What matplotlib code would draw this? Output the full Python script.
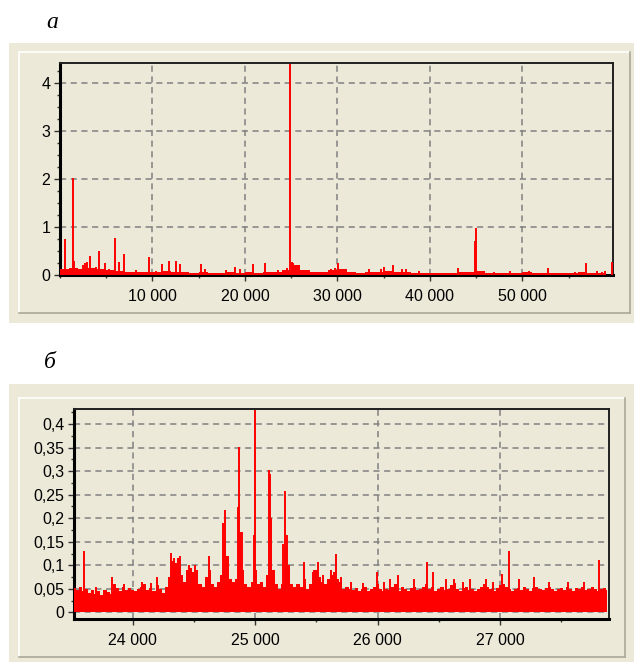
import numpy as np
import matplotlib
matplotlib.use("Agg")
import matplotlib.pyplot as plt
from matplotlib.patches import Rectangle
from matplotlib.lines import Line2D
from matplotlib.ticker import MultipleLocator, FuncFormatter

# ---- panel a: full spectrum ----
a_floor_step = 1000
a_floor = [0.12, 0.14, 0.12, 0.15, 0.13, 0.10, 0.08, 0.07, 0.06, 0.07,
           0.06, 0.08, 0.07, 0.06, 0.05, 0.06, 0.05, 0.05, 0.06, 0.05,
           0.06, 0.05, 0.06, 0.06, 0.10, 0.20, 0.10, 0.06, 0.07, 0.10,
           0.12, 0.07, 0.05, 0.06, 0.07, 0.08, 0.07, 0.06, 0.05, 0.05,
           0.05, 0.05, 0.05, 0.06, 0.07, 0.08, 0.05, 0.05, 0.05, 0.05,
           0.06, 0.05, 0.05, 0.05, 0.05, 0.05, 0.06, 0.05, 0.05, 0.06]
a_peak_x = [530, 1360, 1510, 2440, 2730, 2910, 3240, 3890, 4250, 4900,
            5340, 5910, 6420, 6960, 8230, 9670, 10400, 11010, 11840, 12570,
            12930, 15280, 15640, 17990, 18970, 19510, 20880, 22220, 23590, 24500,
            24860, 25040, 25220, 29300, 29700, 30030, 33430, 34720, 35040, 36060,
            36970, 37400, 38780, 43050, 44850, 45000, 46910, 48610, 50670, 52810,
            54070, 55700, 56890, 58050, 58560, 58920, 59640]
a_peak_y = [0.75, 2.03, 0.29, 0.20, 0.25, 0.28, 0.40, 0.17, 0.50, 0.25,
            0.12, 0.78, 0.27, 0.43, 0.10, 0.38, 0.08, 0.22, 0.30, 0.30,
            0.22, 0.22, 0.12, 0.10, 0.16, 0.12, 0.23, 0.25, 0.10, 0.15,
            4.39, 0.28, 0.25, 0.12, 0.14, 0.24, 0.13, 0.13, 0.17, 0.20,
            0.13, 0.12, 0.08, 0.15, 0.70, 0.97, 0.06, 0.08, 0.08, 0.15,
            0.05, 0.06, 0.24, 0.08, 0.07, 0.08, 0.28]

# ---- panel b: zoom 23 500 - 27 900 ----
b_start = 23525
b_step = 25
b_floor = [0.052, 0.048, 0.055, 0.045, 0.050, 0.042, 0.047, 0.040, 0.045, 0.038,
           0.048, 0.043, 0.040, 0.060, 0.052, 0.045, 0.055, 0.048, 0.052, 0.047,
           0.045, 0.050, 0.055, 0.060, 0.048, 0.052, 0.045, 0.058, 0.050, 0.042,
           0.055, 0.075, 0.110, 0.105, 0.115, 0.080, 0.065, 0.090, 0.095, 0.085,
           0.090, 0.060, 0.055, 0.075, 0.090, 0.060, 0.055, 0.065, 0.080, 0.150,
           0.120, 0.070, 0.065, 0.070, 0.170, 0.090, 0.060, 0.055, 0.065, 0.090,
           0.060, 0.065, 0.055, 0.080, 0.200, 0.090, 0.060, 0.050, 0.060, 0.140,
           0.100, 0.060, 0.055, 0.060, 0.055, 0.070, 0.050, 0.060, 0.085, 0.090,
           0.075, 0.065, 0.060, 0.070, 0.080, 0.085, 0.070, 0.065, 0.050, 0.055,
           0.050, 0.048, 0.052, 0.045, 0.050, 0.055, 0.045, 0.050, 0.055, 0.060,
           0.050, 0.045, 0.050, 0.048, 0.055, 0.060, 0.045, 0.055, 0.050, 0.045,
           0.052, 0.055, 0.048, 0.050, 0.055, 0.060, 0.050, 0.055, 0.045, 0.050,
           0.055, 0.048, 0.050, 0.058, 0.062, 0.050, 0.045, 0.052, 0.055, 0.048,
           0.050, 0.045, 0.050, 0.055, 0.060, 0.055, 0.050, 0.045, 0.052, 0.058,
           0.060, 0.055, 0.050, 0.045, 0.050, 0.052, 0.048, 0.055, 0.050, 0.045,
           0.052, 0.055, 0.050, 0.048, 0.052, 0.055, 0.050, 0.045, 0.050, 0.052,
           0.048, 0.055, 0.050, 0.045, 0.052, 0.050, 0.055, 0.048, 0.050, 0.055,
           0.050, 0.045, 0.050, 0.052, 0.048]
b_peak_x = [23600, 23700, 23834, 23930, 24080, 24150, 24200, 24310, 24340, 24390,
            24460, 24510, 24620, 24735, 24755, 24860, 24871, 24890, 24990, 25003,
            25112, 25125, 25230, 25243, 25262, 25396, 25480, 25514, 25550, 25620,
            25664, 25700, 25780, 25880, 25992, 26050, 26100, 26170, 26300, 26402,
            26448, 26560, 26620, 26700, 26750, 26885, 26940, 27011, 27071, 27150,
            27280, 27400, 27550, 27680, 27809]
b_peak_y = [0.130, 0.055, 0.076, 0.060, 0.065, 0.062, 0.076, 0.127, 0.115, 0.120,
            0.100, 0.100, 0.120, 0.190, 0.218, 0.224, 0.352, 0.170, 0.165, 0.430,
            0.303, 0.293, 0.145, 0.257, 0.165, 0.106, 0.090, 0.107, 0.080, 0.090,
            0.125, 0.075, 0.065, 0.062, 0.085, 0.065, 0.070, 0.080, 0.070, 0.106,
            0.085, 0.072, 0.070, 0.065, 0.072, 0.070, 0.065, 0.082, 0.130, 0.070,
            0.075, 0.065, 0.065, 0.065, 0.111]

RED = "#ff0000"
BEIGE = "#ece9d8"
W, H = 634, 662

fig = plt.figure(figsize=(W / 100, H / 100), dpi=100, facecolor="white")


def px_box(x0, y0, x1, y1):
    return [x0 / W, 1 - y1 / H, (x1 - x0) / W, (y1 - y0) / H]


def panel_frame(x0, y0, x1, y1, ix0, iy0, ix1, iy1):
    fig.patches.append(Rectangle((x0 / W, 1 - y1 / H), (x1 - x0) / W, (y1 - y0) / H,
                                 transform=fig.transFigure, facecolor=BEIGE,
                                 edgecolor="none", zorder=-10))
    def seg(xa, ya, xb, yb, c):
        fig.lines.append(Line2D([xa / W, xb / W], [1 - ya / H, 1 - yb / H],
                                transform=fig.transFigure, color=c, lw=1.2, zorder=-5))
    seg(ix0, iy0, ix1, iy0, "white")
    seg(ix0, iy0, ix0, iy1, "white")
    seg(ix0, iy1, ix1, iy1, "#aca899")
    seg(ix1, iy0, ix1, iy1, "#aca899")


panel_frame(9, 43, 634, 323, 19, 52, 630, 313)
panel_frame(9, 384, 634, 662, 19, 398, 625, 657)


def style(ax):
    ax.set_facecolor(BEIGE)
    for s in ["left", "bottom"]:
        ax.spines[s].set_linewidth(2.2)
        ax.spines[s].set_color("#000000")
    for s in ["top", "right"]:
        ax.spines[s].set_linewidth(1.4)
        ax.spines[s].set_color("#202020")
    ax.grid(True, which="major", color="#808080", linestyle=(0, (4, 3)), linewidth=1.1)
    ax.tick_params(which="major", direction="out", length=4, width=1, color="#333333",
                   labelsize=11.5, pad=3)
    ax.tick_params(which="minor", direction="out", length=2, width=1, color="#333333")
    ax.tick_params(axis="x", which="major", pad=6)
    for lab in ax.get_xticklabels() + ax.get_yticklabels():
        lab.set_fontfamily("Liberation Sans")


def thousands(v, pos):
    return f"{int(round(v)):,}".replace(",", " ")


def comma(v, pos):
    return f"{v:g}".replace(".", ",")


# panel a
ax1 = fig.add_axes(px_box(60, 63, 613, 275))
xa = [a_floor_step * i for i in range(len(a_floor))]
ax1.fill_between(xa, 0, a_floor, step="post", color=RED, lw=0, zorder=3)
ax1.vlines(a_peak_x, 0, a_peak_y, color=RED, lw=1.4, zorder=3)
ax1.set_xlim(0, 59800)
ax1.set_ylim(0, 4.42)
ax1.set_xticks([10000, 20000, 30000, 40000, 50000])
ax1.xaxis.set_minor_locator(MultipleLocator(5000))
ax1.set_yticks([0, 1, 2, 3, 4])
ax1.yaxis.set_minor_locator(MultipleLocator(0.25))
ax1.xaxis.set_major_formatter(FuncFormatter(thousands))
style(ax1)

# panel b
ax2 = fig.add_axes(px_box(74, 409, 609, 619))
xb = [b_start + b_step * i for i in range(len(b_floor))]
ax2.fill_between(xb, 0, b_floor, step="mid", color=RED, lw=0, zorder=3)
ax2.vlines(b_peak_x, 0, b_peak_y, color=RED, lw=1.4, zorder=3)
ax2.set_xlim(23522, 27888)
ax2.set_ylim(-0.014, 0.432)
ax2.set_xticks([24000, 25000, 26000, 27000])
ax2.xaxis.set_minor_locator(MultipleLocator(500))
ax2.set_yticks([0, 0.05, 0.1, 0.15, 0.2, 0.25, 0.3, 0.35, 0.4])
ax2.yaxis.set_minor_locator(MultipleLocator(0.025))
ax2.xaxis.set_major_formatter(FuncFormatter(thousands))
ax2.yaxis.set_major_formatter(FuncFormatter(comma))
style(ax2)

fig.text(52 / W, 1 - 23 / H, "а", fontsize=17, fontstyle="italic",
         family="Liberation Serif", ha="center", va="center")
fig.text(50 / W, 1 - 362 / H, "б", fontsize=17, fontstyle="italic",
         family="Liberation Serif", ha="center", va="center")

fig.savefig("out.png", dpi=100, facecolor="white")
